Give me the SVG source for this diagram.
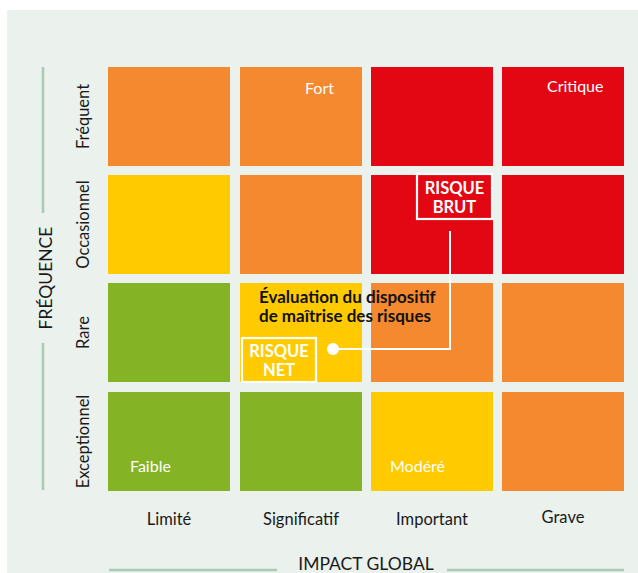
<svg xmlns="http://www.w3.org/2000/svg" width="638" height="573" viewBox="0 0 638 573">
<style>
.o{fill:#f4892f}.r{fill:#e30613}.y{fill:#ffcb00}.g{fill:#84b325}
.lbl{font-family:Lato,"Open Sans","Liberation Sans",sans-serif;font-size:16.5px;fill:#1a1a1a}
.cl{font-family:Lato,"Open Sans","Liberation Sans",sans-serif;font-size:16px;fill:#ffffff}
.ax{font-family:Lato,"Open Sans","Liberation Sans",sans-serif;font-size:17.5px;fill:#1a1a1a}
.bx{font-family:Lato,"Open Sans","Liberation Sans",sans-serif;font-size:16.5px;font-weight:bold;fill:#ffffff;text-anchor:middle}
.axl{stroke:#a8cbb4;stroke-width:2.5;fill:none}
</style>
<rect x="0" y="0" width="638" height="573" fill="#ffffff"/>
<rect x="7" y="10" width="631" height="563" fill="#ebf1ec"/>
<g id="grid">
<g id="r1">
<rect class="o" x="108" y="67" width="122" height="99"/>
<rect class="o" x="240" y="67" width="122" height="99"/>
<rect class="r" x="371" y="67" width="122" height="99"/>
<rect class="r" x="502" y="67" width="122" height="99"/>
</g>
<g id="r2">
<rect class="y" x="108" y="175" width="122" height="99"/>
<rect class="o" x="240" y="175" width="122" height="99"/>
<rect class="r" x="371" y="175" width="122" height="99"/>
<rect class="r" x="502" y="175" width="122" height="99"/>
</g>
<g id="r3">
<rect class="g" x="108" y="283" width="122" height="99"/>
<rect class="y" x="240" y="283" width="122" height="99"/>
<rect class="o" x="371" y="283" width="122" height="99"/>
<rect class="o" x="502" y="283" width="122" height="99"/>
</g>
<g id="r4">
<rect class="g" x="108" y="392" width="122" height="99"/>
<rect class="g" x="240" y="392" width="122" height="99"/>
<rect class="y" x="371" y="392" width="122" height="99"/>
<rect class="o" x="502" y="392" width="122" height="99"/>
</g>
</g>
<g id="cell-labels">
<text class="cl" x="305" y="94">Fort</text>
<text class="cl" x="547" y="92">Critique</text>
<text class="cl" x="130" y="472">Faible</text>
<text class="cl" x="390" y="472">Modéré</text>
</g>
<g id="row-labels" class="lbl" text-anchor="middle">
<text transform="translate(89,116.5) rotate(-90)">Fréquent</text>
<text transform="translate(89,224.5) rotate(-90)">Occasionnel</text>
<text transform="translate(89,332.5) rotate(-90)">Rare</text>
<text transform="translate(89,441.5) rotate(-90)">Exceptionnel</text>
</g>
<g id="col-labels" class="lbl" text-anchor="middle">
<text x="169" y="525">Limité</text>
<text x="301" y="525">Significatif</text>
<text x="432" y="525">Important</text>
<text x="563" y="523">Grave</text>
</g>
<g id="axis-y">
<line class="axl" x1="43" y1="67" x2="43" y2="213"/>
<line class="axl" x1="43" y1="343" x2="43" y2="490"/>
<text class="ax" text-anchor="middle" transform="translate(52,278) rotate(-90)">FRÉQUENCE</text>
</g>
<g id="axis-x">
<line class="axl" x1="109" y1="570" x2="277" y2="570"/>
<line class="axl" x1="447" y1="570" x2="624" y2="570"/>
<text class="ax" text-anchor="middle" x="366" y="570">IMPACT GLOBAL</text>
</g>
<g id="connectors">
<polyline points="450,231 450,349 333,349" fill="none" stroke="#ffffff" stroke-width="2"/>
<circle cx="333" cy="349" r="6" fill="#ffffff"/>
</g>
<g id="risque-brut">
<rect x="417" y="174" width="75" height="45" fill="#e30613" stroke="#ffffff" stroke-width="2.2"/>
<text class="bx" x="454.5" y="194">RISQUE</text>
<text class="bx" x="454.5" y="213">BRUT</text>
</g>
<g id="risque-net">
<rect x="242" y="338" width="74" height="44" fill="#ffcb00" stroke="#ffffff" stroke-width="2.2"/>
<text class="bx" x="279" y="357">RISQUE</text>
<text class="bx" x="279" y="376">NET</text>
</g>
<g id="evaluation">
<text font-family="Lato,'Open Sans','Liberation Sans',sans-serif" font-size="17" font-weight="bold" fill="#111111">
<tspan x="259" y="303">Évaluation du dispositif</tspan>
<tspan x="259" y="322">de maîtrise des risques</tspan>
</text>
</g>
</svg>
